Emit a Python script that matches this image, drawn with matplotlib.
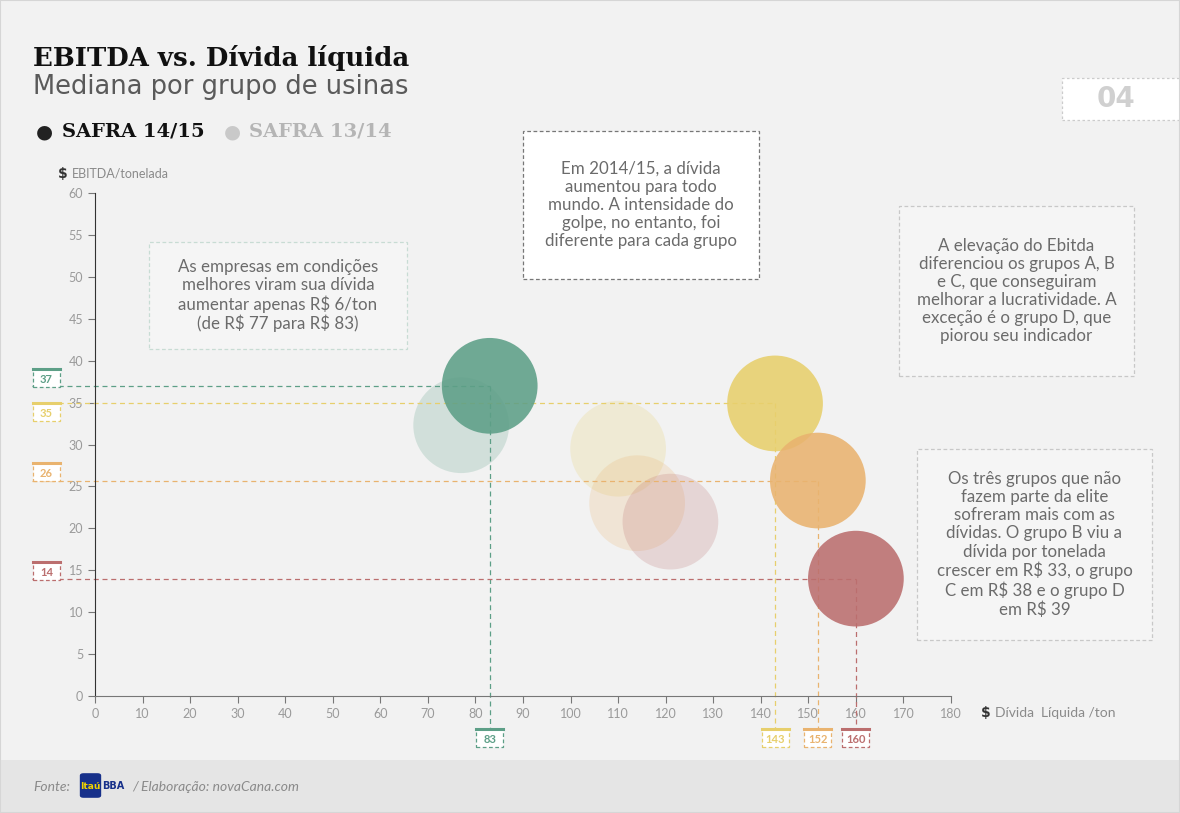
import matplotlib
matplotlib.use('Agg')
import matplotlib.pyplot as plt
from matplotlib.patches import Rectangle, FancyBboxPatch

# dados: mediana por grupo de usinas
grupos = ['A', 'B', 'C', 'D']
divida_1415 = [83, 143, 152, 160]
ebitda_1415 = [37.0, 34.9, 25.7, 14.0]
divida_1314 = [77, 110, 114, 121]
ebitda_1314 = [32.3, 29.5, 23.0, 20.8]
rotulo_ebitda = ['37', '35', '26', '14']
rotulo_divida = ['83', '143', '152', '160']
cores = ['#5d9f87', '#e7cf6c', '#e9b36f', '#bb6e6e']

xticks = list(range(0, 181, 10))
yticks = list(range(0, 61, 5))

W, H = 1180, 813
BG = '#f2f2f2'
TXT = '#6b6b6b'
body_font = 'Lato'


def fx(px):
    return px / W


def fy(py):
    return 1 - py / H


fig = plt.figure(figsize=(11.8, 8.13), dpi=100)
fig.patch.set_facecolor(BG)

# rodapé
fig.patches.append(Rectangle((0, 0), 1, fy(760), transform=fig.transFigure,
                             facecolor='#e5e5e5', edgecolor='none', zorder=0))

ax = fig.add_axes([fx(95), fy(696), fx(951) - fx(95), fy(193) - fy(696)])
ax.set_facecolor('none')
ax.set_xlim(0, 180)
ax.set_ylim(0, 60)
ax.set_xticks(xticks)
ax.set_yticks(yticks)
for s in ['top', 'right']:
    ax.spines[s].set_visible(False)
ax.spines['left'].set_color('#333333')
ax.spines['bottom'].set_color('#777777')
ax.tick_params(axis='both', colors='#777777', labelcolor='#9a9a9a', labelsize=9,
               length=5, width=0.8)
for lab in ax.get_xticklabels() + ax.get_yticklabels():
    lab.set_family(body_font)

# linhas tracejadas de referência
for i in range(4):
    ax.plot([-13.2, divida_1415[i]], [ebitda_1415[i]] * 2, ls=(0, (4, 3)),
            lw=0.9, color=cores[i], clip_on=False, zorder=2)
    ax.plot([divida_1415[i]] * 2, [ebitda_1415[i], -3.9], ls=(0, (4, 3)),
            lw=0.9, color=cores[i], clip_on=False, zorder=2)

# bolhas
s_bolha = 4750
ax.scatter(divida_1314, ebitda_1314, s=s_bolha, c=cores, alpha=0.22,
           edgecolors='none', zorder=1)
ax.scatter(divida_1415, ebitda_1415, s=s_bolha, c=cores, alpha=0.88,
           edgecolors='none', zorder=3)


def caixa_valor(x0, y0, w, h, cor, texto):
    # caixinha com topo sólido e borda tracejada (coordenadas em px)
    fig.patches.append(Rectangle((fx(x0), fy(y0 + h)), fx(w), h / H,
                                 transform=fig.transFigure, facecolor='white',
                                 edgecolor=cor, lw=0.9, ls=(0, (3, 2)), zorder=5))
    fig.add_artist(plt.Line2D([fx(x0), fx(x0 + w)], [fy(y0), fy(y0)],
                              color=cor, lw=2.2, zorder=6))
    fig.text(fx(x0 + w / 2), fy(y0 + h / 2 + 1), texto, color=cor, fontsize=8,
             fontweight='bold', ha='center', va='center', family=body_font, zorder=7)


# caixas do eixo y
caixa_y = [369, 403, 463, 562]
for i in range(4):
    caixa_valor(33, caixa_y[i], 27, 18, cores[i], rotulo_ebitda[i])

# caixas do eixo x
for i in range(4):
    px = ax.transData.transform((divida_1415[i], 0))[0]
    caixa_valor(px - 13.5, 729, 27, 18, cores[i], rotulo_divida[i])

# títulos
fig.text(fx(33), fy(58), 'EBITDA vs. Dívida líquida', fontsize=18.7, fontweight='bold',
         family='DejaVu Serif', color='#111111', va='center')
fig.text(fx(33), fy(87), 'Mediana por grupo de usinas', fontsize=18.5,
         family='DejaVu Sans', color='#5a5a5a', va='center')

# legenda
fig.text(fx(36), fy(132), '●', fontsize=14, color='#222222', va='center')
fig.text(fx(62), fy(132), 'SAFRA 14/15', fontsize=14, fontweight='bold',
         family='DejaVu Serif', color='#111111', va='center')
fig.text(fx(224), fy(132), '●', fontsize=14, color='#c9c9c9', va='center')
fig.text(fx(249), fy(132), 'SAFRA 13/14', fontsize=14, fontweight='bold',
         family='DejaVu Serif', color='#b5b5b5', va='center')

# rótulos dos eixos
fig.text(fx(58), fy(174), '$', fontsize=10, fontweight='bold', color='#333333', va='center')
fig.text(fx(72), fy(174), 'EBITDA/tonelada', fontsize=9, color='#8a8a8a', va='center',
         family=body_font)
fig.text(fx(981), fy(713), '$', fontsize=10, fontweight='bold', color='#333333', va='center')
fig.text(fx(995), fy(713), 'Dívida  Líquida /ton', fontsize=10, color='#8a8a8a',
         va='center', family=body_font)

# numero do grafico
fig.patches.append(Rectangle((fx(1062), fy(120)), fx(130), 42 / H, transform=fig.transFigure,
                             facecolor='white', edgecolor='#cccccc', lw=0.9,
                             ls=(0, (2, 2)), zorder=4))
fig.text(fx(1116), fy(99), '04', fontsize=20, fontweight='bold', color='#d0d0d0',
         ha='center', va='center', zorder=5)

# caixas de comentário
notas = [
    (149, 242, 407, 349, '#f5f5f5', '#c8dcd4',
     'As empresas em condições\nmelhores viram sua dívida\naumentar apenas R\\$ 6/ton\n(de R\\$ 77 para R\\$ 83)'),
    (523, 131, 759, 279, 'white', '#777777',
     'Em 2014/15, a dívida\naumentou para todo\nmundo. A intensidade do\ngolpe, no entanto, foi\ndiferente para cada grupo'),
    (899, 206, 1134, 376, '#f5f5f5', '#c8c8c8',
     'A elevação do Ebitda\ndiferenciou os grupos A, B\ne C, que conseguiram\nmelhorar a lucratividade. A\nexceção é o grupo D, que\npiorou seu indicador'),
    (917, 449, 1152, 640, '#f5f5f5', '#c8c8c8',
     'Os três grupos que não\nfazem parte da elite\nsofreram mais com as\ndívidas. O grupo B viu a\ndívida por tonelada\ncrescer em R\\$ 33, o grupo\nC em R\\$ 38 e o grupo D\nem R\\$ 39'),
]
for x0, y0, x1, y1, face, edge, txt in notas:
    fig.patches.append(Rectangle((fx(x0), fy(y1)), fx(x1 - x0), (y1 - y0) / H,
                                 transform=fig.transFigure, facecolor=face,
                                 edgecolor=edge, lw=0.9, ls=(0, (3, 2)), zorder=4))
    fig.text(fx((x0 + x1) / 2), fy((y0 + y1) / 2), txt, fontsize=12.2, color=TXT,
             ha='center', va='center', linespacing=1.16, family=body_font, zorder=5)

# fonte
fig.text(fx(33), fy(787), 'Fonte:', fontsize=10, style='italic', color='#8a8a8a',
         va='center', family=body_font)
fig.patches.append(FancyBboxPatch((fx(81), fy(797)), fx(19), 23 / H,
                                  boxstyle='round,pad=0.001,rounding_size=0.003',
                                  transform=fig.transFigure, facecolor='#17308a',
                                  edgecolor='none', zorder=4))
fig.text(fx(90.5), fy(786), 'Itaú', fontsize=6.5, fontweight='bold', color='#f2d300',
         ha='center', va='center', zorder=5)
fig.text(fx(102), fy(786), 'BBA', fontsize=7, fontweight='bold', color='#17308a',
         va='center', zorder=5)
fig.text(fx(132), fy(787), '/ Elaboração: novaCana.com', fontsize=10, style='italic',
         color='#8a8a8a', va='center', family=body_font)

fig.patches.append(Rectangle((0, 0), 1, 1, transform=fig.transFigure, facecolor='none',
                             edgecolor='#d6d6d6', lw=1.5, zorder=10))

fig.savefig('out.png', dpi=100, facecolor=BG)
